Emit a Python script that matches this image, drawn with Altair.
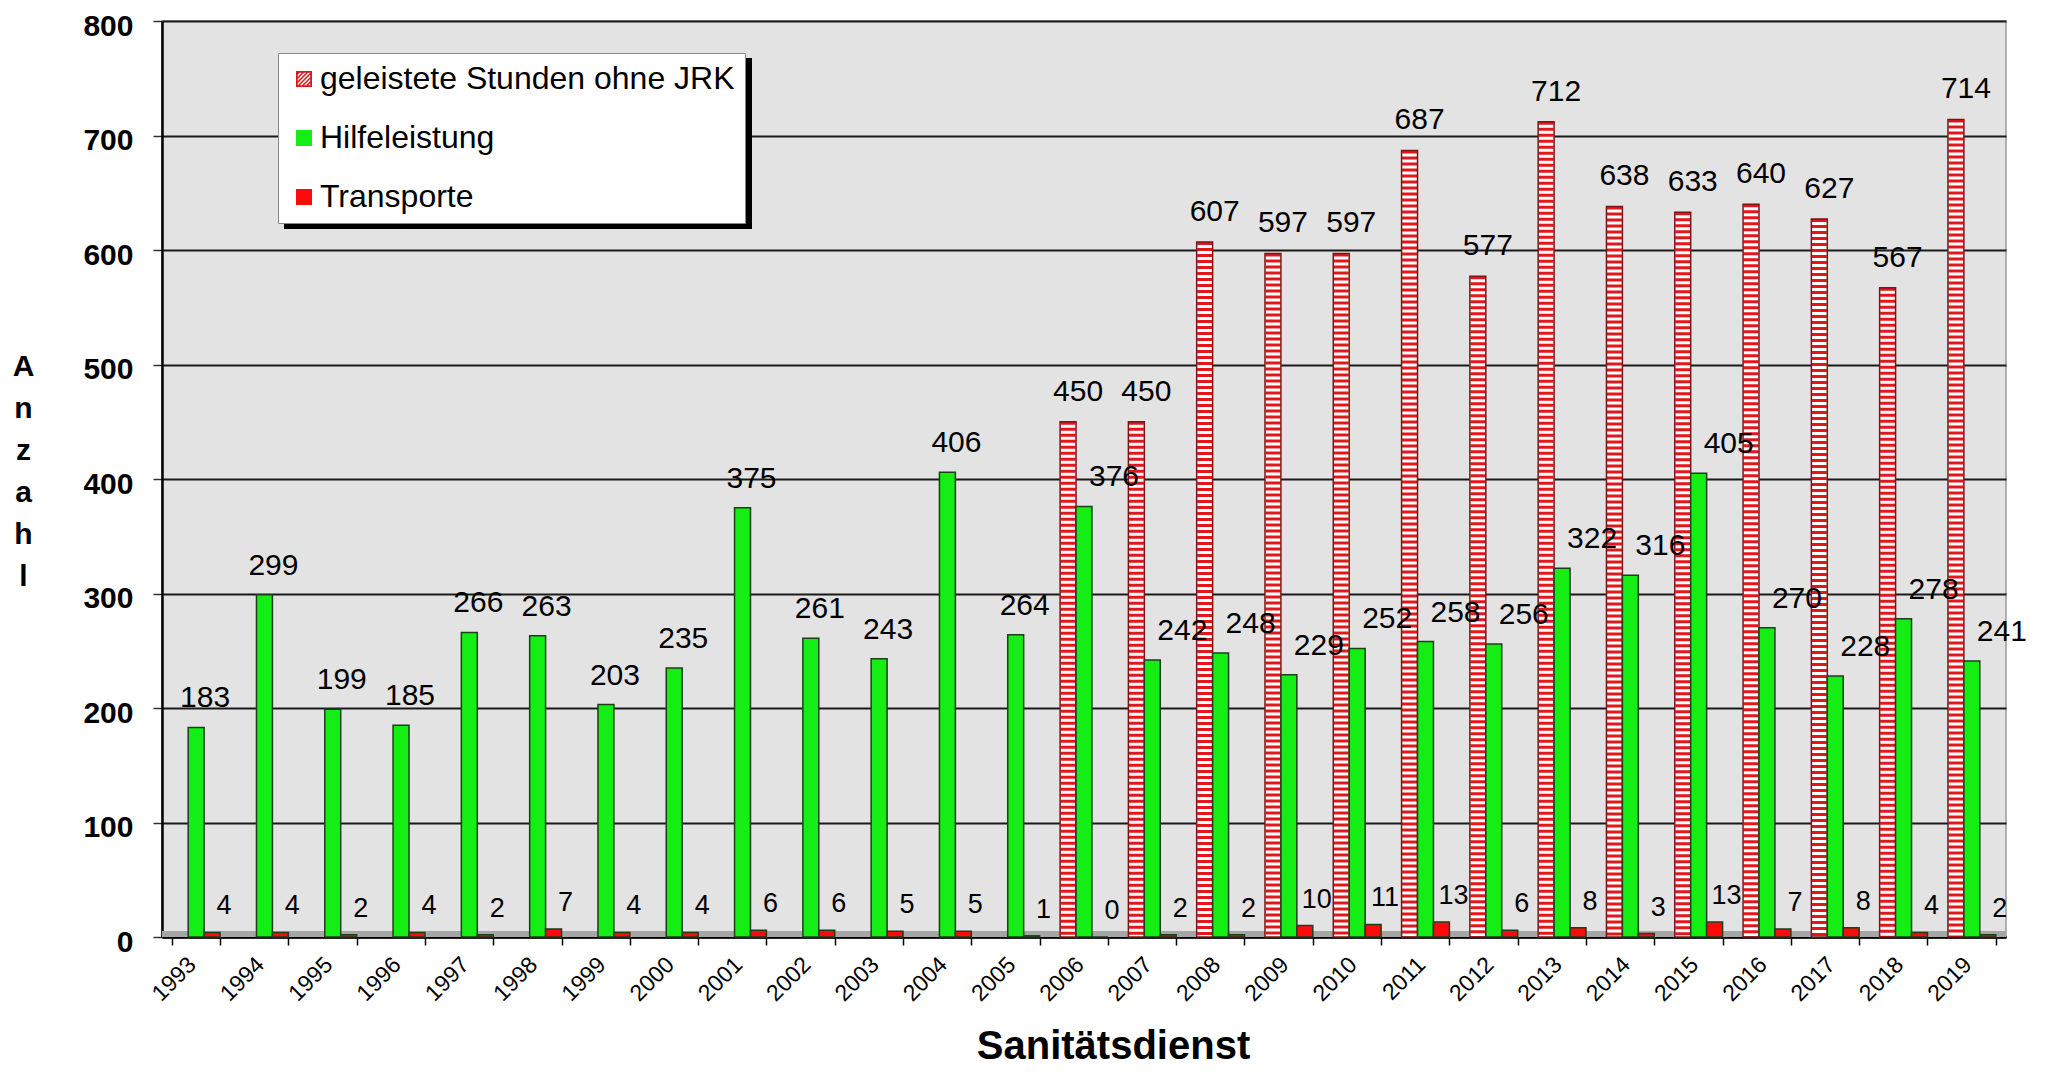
import altair as alt
import pandas as pd

# ---------------- data ----------------
years = ["1993", "1994", "1995", "1996", "1997", "1998", "1999", "2000", "2001",
         "2002", "2003", "2004", "2005", "2006", "2007", "2008", "2009", "2010",
         "2011", "2012", "2013", "2014", "2015", "2016", "2017", "2018", "2019"]
hours = [None, None, None, None, None, None, None, None, None, None, None, None, None,
         450, 450, 607, 597, 597, 687, 577, 712, 638, 633, 640, 627, 567, 714]
hilfe = [183, 299, 199, 185, 266, 263, 203, 235, 375, 261, 243, 406, 264,
         376, 242, 248, 229, 252, 258, 256, 322, 316, 405, 270, 228, 278, 241]
transporte = [4, 4, 2, 4, 2, 7, 4, 4, 6, 6, 5, 5, 1,
              0, 2, 2, 10, 11, 13, 6, 8, 3, 13, 7, 8, 4, 2]
y_ticks = [0, 100, 200, 300, 400, 500, 600, 700, 800]

S_H = "geleistete Stunden ohne JRK"
S_G = "Hilfeleistung"
S_R = "Transporte"
series_names = [S_H, S_G, S_R]
slots = ["h", "g", "r"]

rows = []
for i, yr in enumerate(years):
    for name, slot, vals in ((S_H, "h", hours), (S_G, "g", hilfe), (S_R, "r", transporte)):
        v = vals[i]
        if v is not None:
            rows.append({"year": yr, "series": name, "slot": slot, "value": v})
df = pd.DataFrame(rows)

# ---------------- layout ----------------
W, H = 1844, 916
FONT = "Liberation Sans"


# hatched legend symbol (diagonal stripes inside a frame), unit square [-1, 1]
def clip(poly, a, b, c):
    out = []
    n = len(poly)
    for k in range(n):
        P, Q = poly[k], poly[(k + 1) % n]
        fp = a * P[0] + b * P[1] - c
        fq = a * Q[0] + b * Q[1] - c
        if fp <= 0:
            out.append(P)
        if fp * fq < 0:
            t = fp / (fp - fq)
            out.append((P[0] + t * (Q[0] - P[0]), P[1] + t * (Q[1] - P[1])))
    return out


inner = 0.78
sq = [(-inner, -inner), (inner, -inner), (inner, inner), (-inner, inner)]
path = "M-1,-1L1,-1L1,1L-1,1Z M-%.2f,-%.2fL-%.2f,%.2fL%.2f,%.2fL%.2f,-%.2fZ" % ((inner,) * 8)
period = 0.52
k = 0
while True:
    c1 = -2 * inner + k * period
    if c1 >= 2 * inner:
        break
    c2 = c1 + period * 0.5
    poly = clip(clip(sq, 1, 1, c2), -1, -1, -c1)
    if len(poly) >= 3:
        path += " M" + "L".join("%.3f,%.3f" % p for p in poly) + "Z"
    k += 1

xscale = alt.Scale(domain=years, paddingInner=0.3, paddingOuter=0.15)
oscale = alt.Scale(domain=slots, paddingInner=0, paddingOuter=0)
yscale = alt.Scale(domain=[0, 800], nice=False)

x_axis = alt.Axis(
    title="Sanitätsdienst", titleFont=FONT, titleFontSize=40, titleFontWeight="bold",
    titleColor="black", titleX=951, titleY=109, titleBaseline="middle", titleAlign="center",
    labelAngle=315, labelAlign="right", labelBaseline="top", labelFontSize=23,
    labelFont=FONT, labelColor="black", labelPadding=8, labelOffset=-12,
    tickBand="extent", tickSize=8, tickColor="black", tickWidth=1.5,
    domainColor="black", domainWidth=2.5, grid=False, labelOverlap=False,
)
y_axis = alt.Axis(
    values=y_ticks, title=["A", "n", "z", "a", "h", "l"], titleAngle=0,
    titleFont=FONT, titleFontSize=30, titleFontWeight="bold", titleColor="black",
    titleX=-139, titleY=345, titleAlign="center", titleBaseline="middle", titleLineHeight=42,
    labelFont=FONT, labelFontSize=30, labelFontWeight="bold", labelColor="black",
    labelPadding=20, labelOffset=5, tickSize=9, tickColor="#333", tickWidth=1.5,
    grid=True, gridColor="#1a1a1a", gridWidth=2.2,
    domainColor="black", domainWidth=2.5,
)

X = alt.X("year:N", scale=xscale, axis=x_axis)
XO = alt.XOffset("slot:N", scale=oscale)
Y = alt.Y("value:Q", scale=yscale, axis=y_axis)

base = alt.Chart(df)

color_scale = alt.Scale(domain=series_names, range=["#e0161b", "#14ee14", "#ff0a0a"])
shape_scale = alt.Scale(domain=series_names, range=[path, "square", "square"])
legend = alt.Legend(
    title=None, orient="none", legendX=116, legendY=32, fillColor="white",
    strokeColor="#888888", padding=10, rowPadding=27, labelOffset=0,
    labelFont=FONT, labelFontSize=32, labelColor="black", labelLimit=700,
    symbolSize=256, symbolOpacity=1, symbolStrokeWidth=0, zindex=5,
)

floor = alt.Chart(alt.Data(values=[{"f": 1}])).mark_rect(color="#a6a6a6").encode(
    x=alt.value(0), x2=alt.value(W), y=alt.value(H - 6), y2=alt.value(H)
)

hours_df = base.transform_filter(alt.datum.series == S_H)
hours_white = hours_df.mark_bar(fill="white", strokeWidth=0).encode(x=X, xOffset=XO, y=Y)
hours_stripes = hours_df.mark_rule(color="#e3161c", strokeWidth=15, strokeDash=[3, 3]).encode(
    x=X, xOffset=XO, y=Y, y2=alt.datum(0)
)
hours_outline = hours_df.mark_bar(fillOpacity=0, stroke="#7a1515", strokeWidth=1.5).encode(
    x=X, xOffset=XO, y=Y
)

gr_bars = base.transform_filter(alt.datum.series != S_H).mark_bar(
    stroke="#1d3d1d", strokeWidth=1.5
).encode(
    x=X, xOffset=XO, y=Y,
    color=alt.Color("series:N", scale=color_scale, legend=legend),
)

legend_pts = base.mark_point(filled=True, opacity=0).encode(
    x=X, xOffset=XO, y=Y,
    color=alt.Color("series:N", scale=color_scale, legend=legend),
    shape=alt.Shape("series:N", scale=shape_scale, legend=legend),
)

txt = dict(font=FONT, color="black", baseline="middle", align="center")
lab_hours = hours_df.mark_text(fontSize=30, dx=10, dy=-30, **txt).encode(
    x=X, xOffset=XO, y=Y, text="value:Q")
lab_green_early = base.transform_filter(
    "datum.series == 'Hilfeleistung' && toNumber(datum.year) < 2006"
).mark_text(fontSize=30, dx=9, dy=-29, **txt).encode(x=X, xOffset=XO, y=Y, text="value:Q")
lab_green_late = base.transform_filter(
    "datum.series == 'Hilfeleistung' && toNumber(datum.year) >= 2006"
).mark_text(fontSize=30, dx=30, dy=-29, **txt).encode(x=X, xOffset=XO, y=Y, text="value:Q")
lab_red = base.transform_filter(alt.datum.series == S_R).mark_text(
    fontSize=27, dx=12, dy=-26, **txt).encode(x=X, xOffset=XO, y=Y, text="value:Q")

shadow = alt.Chart(alt.Data(values=[{"s": 1}])).mark_rect(color="black").encode(
    x=alt.value(122), x2=alt.value(590), y=alt.value(37), y2=alt.value(208)
)

chart = alt.layer(
    floor, hours_white, hours_stripes, hours_outline, gr_bars, legend_pts,
    lab_hours, lab_green_early, lab_green_late, lab_red, shadow,
).resolve_scale(color="shared", shape="shared").properties(
    width=W, height=H,
    autosize=alt.AutoSizeParams(type="none"),
    padding={"left": 154, "top": 13, "right": 30, "bottom": 129},
    background="white",
).configure_view(
    fill="#e3e3e3", stroke="#9a9a9a", strokeWidth=1.5
)

chart.save("out.html", embed_options={"renderer": "svg", "actions": False})
